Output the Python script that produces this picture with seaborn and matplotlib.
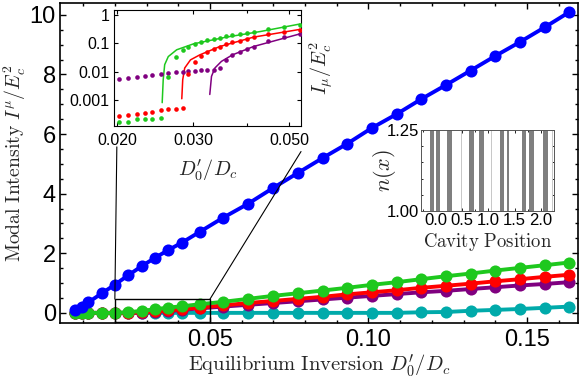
import numpy as np
import pandas as pd
import matplotlib
matplotlib.use("Agg")
import matplotlib.pyplot as plt
import matplotlib.ticker as mticker
from matplotlib.patches import Rectangle, ConnectionPatch
import seaborn as sns

# ----------------------------
# Data
# ----------------------------
# main panel: modal intensity vs equilibrium inversion
d0 = [0.0074, 0.0095, 0.0116, 0.0158, 0.0199, 0.0242, 0.0285, 0.0327, 0.0369,
      0.0412, 0.0468, 0.0541, 0.0620, 0.0699, 0.0778, 0.0856, 0.0932, 0.1010,
      0.1089, 0.1166, 0.1245, 0.1322, 0.1400, 0.1478, 0.1557, 0.1633]
mode_blue = [0.08, 0.21, 0.35, 0.65, 0.94, 1.26, 1.57, 1.85, 2.11, 2.36, 2.72,
             3.19, 3.66, 4.19, 4.70, 5.20, 5.67, 6.20, 6.67, 7.17, 7.65, 8.13,
             8.62, 9.09, 9.59, 10.09]
mode_green = [0.00, 0.00, 0.00, 0.00, 0.00, 0.02, 0.07, 0.12, 0.18, 0.22, 0.29,
              0.37, 0.47, 0.57, 0.66, 0.75, 0.84, 0.94, 1.03, 1.13, 1.23, 1.32,
              1.42, 1.51, 1.60, 1.69]
mode_red = [0.00, 0.00, 0.00, 0.00, 0.00, 0.00, 0.02, 0.05, 0.08, 0.12, 0.18,
            0.25, 0.33, 0.40, 0.47, 0.54, 0.62, 0.69, 0.76, 0.84, 0.91, 0.98,
            1.06, 1.13, 1.21, 1.28]
mode_purple = [0.00, 0.00, 0.00, 0.00, 0.00, 0.00, 0.01, 0.03, 0.06, 0.10, 0.15,
               0.21, 0.27, 0.33, 0.39, 0.45, 0.51, 0.57, 0.63, 0.69, 0.74, 0.80,
               0.86, 0.92, 0.97, 1.03]
mode_cyan = [0.00, 0.00, 0.00, 0.00, 0.00, 0.00, 0.00, 0.00, 0.00, 0.00, 0.00,
             0.00, 0.00, 0.00, 0.00, 0.00, 0.00, 0.00, 0.00, 0.02, 0.03, 0.07,
             0.10, 0.13, 0.17, 0.21]

# inset: log-log zoom near threshold (dots = simulation, lines = theory)
ins_x = [0.02025, 0.02124, 0.02229, 0.02322, 0.02418, 0.02526, 0.02629, 0.02735,
         0.02839, 0.02926, 0.03032, 0.03125, 0.0323, 0.0335, 0.0346, 0.0357,
         0.0370, 0.0385, 0.0399, 0.0414, 0.0448, 0.0487, 0.0530]
ins_green = [1.6e-4, 1.7e-4, 2.1e-4, 2.2e-4, 2.2e-4, 2.3e-4, 6.5e-3, 0.033,
             0.059, 0.077, 0.096, 0.113, 0.126, 0.140, 0.156, 0.174, 0.194,
             0.210, 0.228, 0.247, 0.314, 0.370, 0.450]
ins_red = [2.7e-4, 2.9e-4, 3.2e-4, 3.55e-4, 3.85e-4, 4.3e-4, 4.7e-4, 4.9e-4,
           5.1e-4, 8.5e-3, 0.021, 0.035, 0.048, 0.063, 0.077, 0.096, 0.110,
           0.125, 0.144, 0.165, 0.210, 0.250, 0.300]
ins_purple = [5.5e-3, 6.0e-3, 6.5e-3, 7.0e-3, 7.6e-3, 8.3e-3, 8.9e-3, 9.5e-3,
              0.0100, 0.0106, 0.0108, 0.0110, 0.0110, 0.0118, 0.0135, 0.025,
              0.039, 0.050, 0.062, 0.077, 0.125, 0.165, 0.215]

theory_green_x = [0.02546, 0.0256, 0.0258, 0.0263, 0.0275, 0.0301, 0.0358, 0.0429, 0.0530]
theory_green_y = [8.0e-4, 5.2e-3, 0.0176, 0.034, 0.059, 0.096, 0.165, 0.26, 0.48]
theory_red_x = [0.02826, 0.0284, 0.0287, 0.0296, 0.0311, 0.0346, 0.0414, 0.0530]
theory_red_y = [1.1e-3, 5.2e-3, 0.0134, 0.026, 0.039, 0.077, 0.165, 0.31]
theory_purple_x = [0.0328, 0.0331, 0.0337, 0.0349, 0.0370, 0.0414, 0.0530]
theory_purple_y = [1.56e-3, 6.8e-3, 0.0134, 0.023, 0.039, 0.077, 0.215]

# inset: refractive index profile of the cavity (high-index slabs)
slab_left = [-0.11, 0.00, 0.22, 0.49, 0.64, 0.83, 1.06, 1.225, 1.35, 1.64, 1.78, 2.05, 2.22]
slab_width = [0.08, 0.08, 0.085, 0.015, 0.09, 0.08, 0.015, 0.08, 0.045, 0.075, 0.085, 0.085, 0.015]
slab_shade = ["#7f7f7f", "#7f7f7f", "#7f7f7f", "#c8c8c8", "#7f7f7f", "#7f7f7f",
              "#c8c8c8", "#7f7f7f", "#7f7f7f", "#7f7f7f", "#7f7f7f", "#7f7f7f", "#c8c8c8"]
n_low, n_high = 1.00, 1.25

BLUE, GREEN, RED, PURPLE, CYAN = "#0000ff", "#1ec81e", "#ff0000", "#800080", "#00aaaa"

# ----------------------------
# Style
# ----------------------------
sns.set_theme(style="ticks")
plt.rcParams["font.family"] = ["Liberation Sans", "DejaVu Sans"]
plt.rcParams["mathtext.fontset"] = "cm"
plt.rcParams["axes.edgecolor"] = "black"
plt.rcParams["xtick.color"] = "black"
plt.rcParams["ytick.color"] = "black"

fig = plt.figure(figsize=(5.81, 3.80), dpi=100)
ax = fig.add_axes([0.1033, 0.15, 0.8915, 0.843])

# ----------------------------
# Main panel
# ----------------------------
main = pd.DataFrame({
    "D": d0 * 5,
    "I": mode_cyan + mode_purple + mode_red + mode_green + mode_blue,
    "mode": ["cyan"] * len(d0) + ["purple"] * len(d0) + ["red"] * len(d0)
            + ["green"] * len(d0) + ["blue"] * len(d0),
})
sns.lineplot(data=main, x="D", y="I", hue="mode",
             hue_order=["cyan", "purple", "red", "green", "blue"],
             palette=[CYAN, PURPLE, RED, GREEN, BLUE],
             marker="o", markersize=8.7, markeredgewidth=0, linewidth=2.8,
             estimator=None, legend=False, ax=ax)

ax.set_xlim(0.0027, 0.1661)
ax.set_ylim(-0.34, 10.41)
ax.set_xticks([0.05, 0.10, 0.15])
ax.set_xticklabels(["0.05", "0.10", "0.15"])
ax.set_yticks([0, 2, 4, 6, 8, 10])
ax.xaxis.set_minor_locator(mticker.MultipleLocator(0.01))
ax.yaxis.set_minor_locator(mticker.MultipleLocator(0.5))
ax.tick_params(which="both", direction="in", top=True, right=True, width=1.0, labelsize=17)
ax.tick_params(which="major", length=4)
ax.tick_params(which="minor", length=2.2)
ax.tick_params(axis="x", pad=4)
ax.tick_params(axis="y", pad=3)
for s in ax.spines.values():
    s.set_linewidth(1.2)
ax.set_xlabel(r"$\mathrm{Equilibrium\ Inversion}\ D_0^{\prime}/D_c$", fontsize=14.8, labelpad=1)
ax.set_ylabel(r"$\mathrm{Modal\ Intensity}\ I^{\mu}/E_c^2$", fontsize=14.2)
ax.yaxis.set_label_coords(-0.061, 0.5)

# zoom window
zoom_lo, zoom_hi = 0.02, 0.05
zoom_bot, zoom_top = -0.29, 0.46
ax.add_patch(Rectangle((zoom_lo, zoom_bot), zoom_hi - zoom_lo, zoom_top - zoom_bot,
                       fill=False, edgecolor="black", linewidth=1.0, zorder=10))

# ----------------------------
# Inset 1: log-log near threshold
# ----------------------------
axin = fig.add_axes([0.1962, 0.6684, 0.3219, 0.3053])
for ys, c in [(ins_purple, PURPLE), (ins_red, RED), (ins_green, GREEN)]:
    sns.scatterplot(x=ins_x, y=ys, color=c, s=11, linewidth=0, ax=axin, zorder=3)
for xs, ys, c in [(theory_green_x, theory_green_y, GREEN),
                  (theory_red_x, theory_red_y, RED),
                  (theory_purple_x, theory_purple_y, PURPLE)]:
    sns.lineplot(x=xs, y=ys, color=c, linewidth=1.1, estimator=None, sort=False, ax=axin)
axin.set_xscale("log")
axin.set_yscale("log")
axin.set_xlim(0.0197, 0.0533)
axin.set_ylim(1.2e-4, 1.5)
axin.set_xticks([0.02, 0.03, 0.05])
axin.set_xticklabels(["0.020", "0.030", "0.050"])
axin.xaxis.set_minor_locator(mticker.FixedLocator([0.04]))
axin.xaxis.set_minor_formatter(mticker.NullFormatter())
axin.set_yticks([1, 0.1, 0.01, 0.001])
axin.set_yticklabels(["1", "0.1", "0.01", "0.001"])
axin.yaxis.set_minor_locator(mticker.NullLocator())
axin.tick_params(which="both", direction="in", top=True, right=True, width=0.8, labelsize=11.5)
axin.tick_params(which="major", length=3)
axin.tick_params(which="minor", length=2)
axin.tick_params(axis="x", pad=5)
for s in axin.spines.values():
    s.set_linewidth(0.8)
axin.set_xlabel(r"$D_0^{\prime}/D_c$", fontsize=14.5, labelpad=7)
axin.yaxis.set_label_position("right")
axin.set_ylabel(r"$I_{\mu}/E_c^2$", fontsize=14.5, labelpad=5)

# connector lines from zoom window to the inset
for x_main, x_in, y_in in [(zoom_lo, 0.02, -0.18), (zoom_hi, 0.0533, -0.22)]:
    con = ConnectionPatch(xyA=(x_main, zoom_top), coordsA=ax.transData,
                          xyB=(x_in, y_in), coordsB=axin.get_xaxis_transform(),
                          color="black", linewidth=0.8)
    fig.add_artist(con)

# ----------------------------
# Inset 2: refractive index profile
# ----------------------------
axn = fig.add_axes([0.7246, 0.4447, 0.2289, 0.2132])
axn.bar(slab_left, [n_high - n_low] * len(slab_left), width=slab_width,
        bottom=n_low, align="edge", color=slab_shade, linewidth=0)
axn.set_xlim(-0.28, 2.25)
axn.set_ylim(n_low, n_high)
axn.set_xticks([0.0, 0.5, 1.0, 1.5, 2.0])
axn.set_xticklabels(["0.0", "0.5", "1.0", "1.5", "2.0"])
axn.set_yticks([1.00, 1.25])
axn.set_yticklabels(["1.00", "1.25"])
axn.xaxis.set_minor_locator(mticker.MultipleLocator(0.25))
axn.yaxis.set_minor_locator(mticker.MultipleLocator(0.05))
axn.tick_params(which="both", direction="in", top=True, right=True, width=0.6,
                labelsize=12, pad=1.5)
axn.tick_params(which="major", length=2.5)
axn.tick_params(which="minor", length=1.5)
for s in axn.spines.values():
    s.set_linewidth(0.7)
    s.set_color("#555555")
axn.set_xlabel(r"$\mathrm{Cavity\ Position}$", fontsize=13.5, labelpad=2)
axn.set_ylabel(r"$n(x)$", fontsize=16, labelpad=-8)

fig.savefig("out.png", dpi=100)
